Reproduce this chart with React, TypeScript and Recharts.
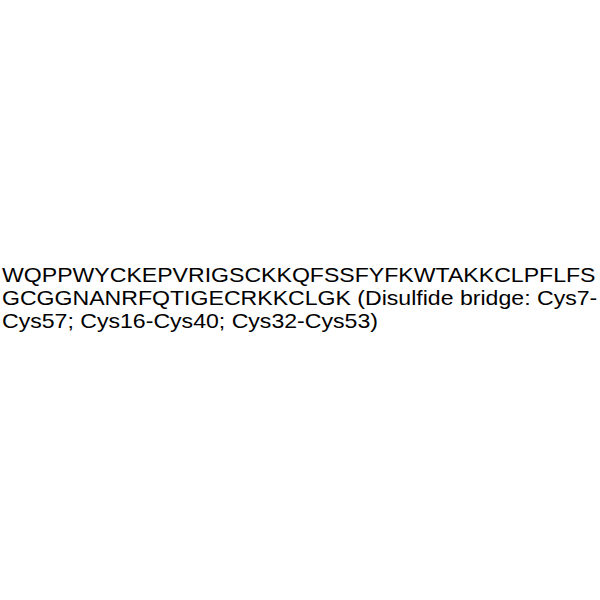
import React from "react";
import { Surface, Text } from "recharts";

const lines: string[] = [
  "WQPPWYCKEPVRIGSCKKQFSSFYFKWTAKKCLPFLFS",
  "GCGGNANRFQTIGECRKKCLGK (Disulfide bridge: Cys7-",
  "Cys57; Cys16-Cys40; Cys32-Cys53)",
];
const baselines: number[] = [282, 305, 328];
const scaleX = 1.155;

export default function App() {
  return (
    <div style={{ position: "absolute", left: 0, top: 0, width: 600, height: 600, background: "#fff" }}>
      <Surface width={600} height={600}>
        <g transform={`scale(${scaleX},1)`}>
          {lines.map((t, i) => (
            <Text
              key={i}
              x={2 / scaleX}
              y={baselines[i]}
              textAnchor="start"
              verticalAnchor="end"
              fontFamily="'Liberation Sans', Arial, sans-serif"
              fontSize={20}
              fill="#000"
            >
              {t}
            </Text>
          ))}
        </g>
      </Surface>
    </div>
  );
}
